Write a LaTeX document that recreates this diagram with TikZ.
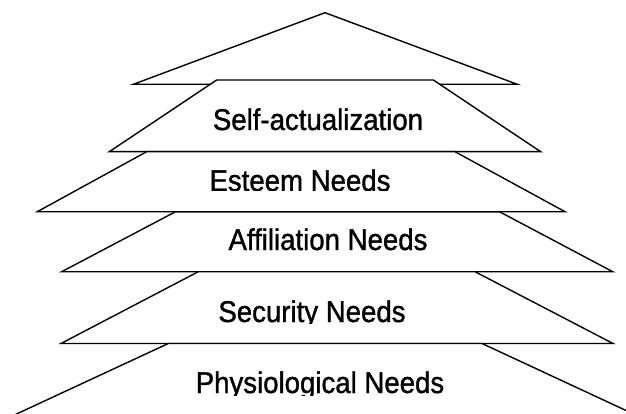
\documentclass[tikz,border=0pt]{standalone}
\usepackage{fontspec}
\setmainfont{Liberation Sans}
\newfontfamily\lblfont[FakeStretch=0.92,FakeBold=1.2]{Liberation Sans}
\begin{document}
\begin{tikzpicture}[x=1pt,y=-1pt,
  tier/.style={draw=black,fill=white,line width=1.4pt},
  lbl/.style={font=\lblfont\fontsize{30}{32}\selectfont,inner sep=0pt,anchor=base}]
\useasboundingbox (0,0) rectangle (626,414);
\clip (0,0) rectangle (626,414);
% top triangle
\draw[tier] (325,12.7) -- (517.3,84.3) -- (133.3,84.3) -- cycle;
% self-actualization
\draw[tier] (216.7,80) -- (433.3,80) -- (540.7,151.7) -- (109.3,151.7) -- cycle;
% esteem
\draw[tier] (146.7,151.7) -- (455,151.7) -- (565,211.7) -- (37.3,211.7) -- cycle;
% affiliation
\draw[tier] (175,212) -- (500,212) -- (612.7,271.7) -- (61.7,271.7) -- cycle;
% security
\draw[tier] (198.3,271.7) -- (475,271.7) -- (613,343.5) -- (61,343.5) -- cycle;
% physiological
\draw[tier] (168.3,343.5) -- (482,343.5) -- (711,450) -- (-61,450) -- cycle;
% labels
\node[lbl] (selfact) at (318,130) {Self-actualization};
\begin{scope}
  \clip (0,0) rectangle (626,190.5);
  \node[lbl] (esteem) at (300,191) {Esteem Needs};
\end{scope}
\node[lbl] (affil) at (328,250) {Affiliation Needs};
\begin{scope}
  \clip (0,0) rectangle (626,323);
  \node[lbl] (security) at (312,322) {Security Needs};
\end{scope}
\begin{scope}
  \clip (0,0) rectangle (626,395);
  \node[lbl] (physio) at (320,393) {Physiological Needs};
\end{scope}
\end{tikzpicture}
\end{document}
